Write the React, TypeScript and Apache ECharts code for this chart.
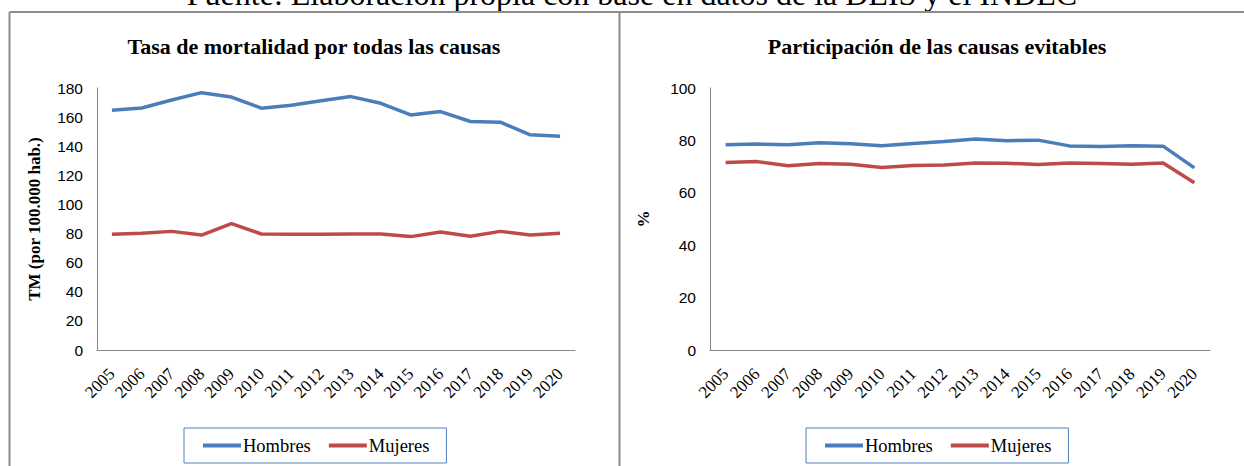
import React, { useEffect, useRef } from "react";
import * as echarts from "echarts";

const years = ["2005","2006","2007","2008","2009","2010","2011","2012","2013","2014","2015","2016","2017","2018","2019","2020"];
const tmHombres = [164.7,166.3,171.8,176.8,173.8,166.1,168.1,171.3,174.1,169.5,161.5,163.8,157.0,156.5,147.8,146.9];
const tmMujeres = [79.5,80.2,81.5,79.0,86.8,79.7,79.5,79.5,79.7,79.7,77.9,81.1,78.1,81.5,79.0,80.2];
const evHombres = [78.3,78.6,78.3,79.1,78.7,78.0,78.8,79.6,80.5,79.9,80.1,77.9,77.7,78.0,77.8,69.5];
const evMujeres = [71.6,71.9,70.3,71.2,70.9,69.7,70.4,70.6,71.4,71.3,70.8,71.4,71.2,70.9,71.4,63.8];

const BLUE = "#4A7EBB";
const RED = "#BE4B48";
const SERIF = "'Liberation Serif', 'Times New Roman', serif";
const SANS = "'Liberation Sans', Arial, sans-serif";

export default function App() {
  const ref = useRef<HTMLDivElement>(null);
  useEffect(() => {
    if (!ref.current) return;
    const chart = echarts.init(ref.current, null, { renderer: "svg" });
    const axisLine = { show: true, lineStyle: { color: "#868686", width: 1 } };
    const xAxisCommon = {
      type: "category" as const,
      data: years,
      boundaryGap: true,
      axisLine,
      axisTick: { show: false },
      axisLabel: { rotate: 45, fontFamily: SERIF, fontSize: 17, color: "#000", margin: 21, interval: 0 },
      splitLine: { show: false },
    };
    const yAxisCommon = {
      type: "value" as const,
      min: 0,
      axisLine,
      axisTick: { show: false },
      splitLine: { show: false },
      axisLabel: { fontFamily: SANS, fontSize: 15.5, color: "#000", margin: 14 },
      nameLocation: "middle" as const,
      nameRotate: 90,
      nameTextStyle: { fontFamily: SERIF, fontSize: 17, fontWeight: "bold" as const, color: "#000" },
    };
    const legendCommon = {
      data: ["Hombres", "Mujeres"],
      top: 428,
      orient: "horizontal" as const,
      icon: "rect",
      itemWidth: 38,
      itemHeight: 4,
      itemGap: 18,
      borderColor: "#4F81BD",
      borderWidth: 1,
      padding: [8, 17, 8, 19],
      textStyle: { fontFamily: SERIF, fontSize: 18.5, color: "#000", padding: [0, 0, 0, -3] },
      selectedMode: false,
    };
    chart.setOption({
      animation: false,
      backgroundColor: "#fff",
      title: [
        { text: "Tasa de mortalidad por todas las causas", left: 309, top: 30, textAlign: "center",
          textStyle: { fontFamily: SERIF, fontSize: 22, fontWeight: "bold", color: "#000" } },
        { text: "Participación de las causas evitables", left: 932, top: 30, textAlign: "center",
          textStyle: { fontFamily: SERIF, fontSize: 22, fontWeight: "bold", color: "#000" } },
      ],
      legend: [
        { ...legendCommon, left: 184 },
        { ...legendCommon, left: 806 },
      ],
      grid: [
        { left: 97, right: 669, top: 88, bottom: 116 },
        { left: 710, right: 34, top: 88, bottom: 116 },
      ],
      xAxis: [
        { ...xAxisCommon, gridIndex: 0 },
        { ...xAxisCommon, gridIndex: 1 },
      ],
      yAxis: [
        { ...yAxisCommon, gridIndex: 0, max: 180, interval: 20, name: "TM (por 100.000 hab.)", nameGap: 54 },
        { ...yAxisCommon, gridIndex: 1, max: 100, interval: 20, name: "%", nameGap: 58 },
      ],
      series: [
        { name: "Hombres", type: "line", xAxisIndex: 0, yAxisIndex: 0, data: tmHombres, symbol: "none",
          lineStyle: { color: BLUE, width: 3.5 }, itemStyle: { color: BLUE } },
        { name: "Mujeres", type: "line", xAxisIndex: 0, yAxisIndex: 0, data: tmMujeres, symbol: "none",
          lineStyle: { color: RED, width: 3.5 }, itemStyle: { color: RED } },
        { name: "Hombres", type: "line", xAxisIndex: 1, yAxisIndex: 1, data: evHombres, symbol: "none",
          lineStyle: { color: BLUE, width: 3.5 }, itemStyle: { color: BLUE } },
        { name: "Mujeres", type: "line", xAxisIndex: 1, yAxisIndex: 1, data: evMujeres, symbol: "none",
          lineStyle: { color: RED, width: 3.5 }, itemStyle: { color: RED } },
      ],
      graphic: [
        { type: "text", x: 632, y: -6, style: { text: "Fuente: Elaboración propia con base en datos de la DEIS y el INDEC",
          font: "32px " + SERIF, fill: "#000", align: "center", verticalAlign: "middle" } },
        { type: "line", shape: { x1: 9.5, y1: 12, x2: 1244, y2: 12 }, style: { stroke: "#8c8c8c", lineWidth: 2 } },
        { type: "line", shape: { x1: 9.5, y1: 12, x2: 9.5, y2: 466 }, style: { stroke: "#8c8c8c", lineWidth: 2 } },
        { type: "line", shape: { x1: 619.5, y1: 12, x2: 619.5, y2: 466 }, style: { stroke: "#8c8c8c", lineWidth: 2 } },
      ],
    });
    return () => chart.dispose();
  }, []);
  return <div ref={ref} style={{ position: "fixed", left: 0, top: 0, width: 1244, height: 466 }} />;
}
